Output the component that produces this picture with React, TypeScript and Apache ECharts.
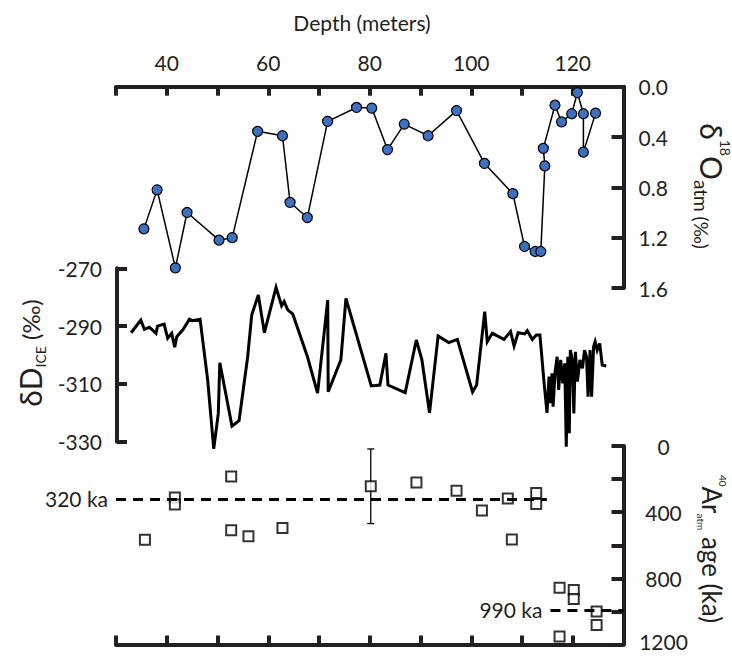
import React, { useEffect, useRef } from "react";
import * as echarts from "echarts";

// δ18O atm (top panel)
const o18Depth = [35.5, 38.1, 41.7, 44.0, 50.3, 52.9, 57.9, 62.8, 64.3, 67.7, 71.7, 77.4, 80.4, 83.5, 86.8, 91.5, 97.1, 102.6, 108.2, 110.5, 112.6, 113.7, 114.5, 114.2, 116.5, 117.8, 119.8, 120.9, 122.1, 122.1, 124.5];
const o18Val = [1.13, 0.82, 1.44, 1.0, 1.22, 1.2, 0.355, 0.39, 0.92, 1.04, 0.276, 0.165, 0.17, 0.5, 0.297, 0.39, 0.19, 0.61, 0.85, 1.27, 1.31, 1.31, 0.63, 0.49, 0.147, 0.28, 0.215, 0.047, 0.215, 0.52, 0.21];

// δD ice (middle panel)
const dDDepth = [32.8, 34.7, 35.4, 36.4, 37.7, 38.0, 39.3, 40.0, 40.8, 41.4, 41.8, 43.0, 44.3, 44.9, 46.4, 47.9, 49.1, 50.0, 50.3, 52.7, 54.1, 55.8, 56.6, 57.9, 59.1, 61.4, 62.5, 63.0, 63.7, 64.7, 67.6, 69.6, 71.6, 71.7, 74.2, 75.2, 80.2, 81.9, 83.1, 83.5, 86.9, 89.1, 90.2, 91.7, 93.4, 95.5, 97.2, 100.2, 101.0, 102.6, 103.1, 104.1, 106.4, 107.7, 108.4, 109.2, 110.5, 111.0, 112.0, 112.8, 113.5, 114.3, 114.9, 115.3, 115.6, 115.9, 116.1, 116.5, 116.9, 117.2, 117.6, 118.0, 118.4, 118.7, 119.0, 119.3, 119.5, 119.9, 120.2, 120.5, 120.9, 121.4, 121.9, 122.3, 122.7, 123.0, 123.4, 123.7, 124.1, 124.4, 124.8, 125.3, 125.8, 126.6];
const dDVal = [-292.3, -287.9, -291.1, -290.4, -292.5, -290.0, -289.3, -294.2, -292.5, -297.3, -293.7, -291.3, -287.6, -288.1, -287.6, -308.6, -332.5, -320.2, -302.7, -324.6, -322.7, -300.6, -286.2, -279.2, -292.3, -276.6, -283.0, -281.5, -284.4, -285.8, -300.6, -313.2, -281.0, -312.7, -301.7, -280.4, -310.7, -310.4, -299.4, -310.4, -313.0, -294.8, -301.7, -320.0, -293.4, -295.7, -294.6, -312.8, -310.4, -285.0, -295.4, -292.5, -294.6, -291.9, -296.9, -292.3, -292.7, -291.6, -294.6, -293.1, -293.1, -309.2, -320.0, -307.5, -316.7, -306.3, -317.9, -305.8, -300.6, -312.1, -301.7, -309.8, -302.9, -331.7, -300.6, -327.1, -298.3, -301.7, -320.2, -298.9, -309.2, -301.7, -304.6, -298.3, -300.6, -314.4, -298.3, -314.4, -297.1, -295.4, -298.3, -296.0, -303.5, -303.8];

// 40Ar atm age (bottom panel)
const arDepth = [35.7, 41.6, 41.6, 52.7, 52.7, 56.1, 62.8, 80.2, 89.2, 97.1, 102.1, 107.2, 108.0, 112.8, 112.8, 117.4, 120.2, 120.2, 117.4, 124.7, 124.7];
const arAge = [566, 312, 353, 184, 510, 545, 496, 243, 220, 271, 390, 318, 565, 284, 351, 857, 871, 925, 1151, 1000, 1082];
const errDepth = [80.2];
const errLow = [18];
const errHigh = [469];

// reference ages
const refAge = [320, 990];
const refLabel = ["320 ka", "990 ka"];
const refFrom = [30, 115.6];
const refTo = [114.9, 130];

const FONT = "Lato";
const INK = "#231f20";

export default function App() {
  const ref = useRef<HTMLDivElement>(null);
  useEffect(() => {
    if (!ref.current) return;
    const chart = echarts.init(ref.current, null, { renderer: "svg" });
    const axisLine = { show: true, onZero: false, lineStyle: { color: INK, width: 4 } };
    const lbl = { color: INK, fontSize: 21, fontFamily: FONT };
    const xBase = { type: "value", min: 30, max: 130, interval: 10, splitLine: { show: false } };

    const option: any = {
      animation: false,
      grid: [
        { left: 116, right: 108.5, top: 86.7, height: 201.3 },
        { left: 117, right: 108.5, top: 268.3, height: 173.4 },
        { left: 116, right: 108.5, top: 446, height: 203.3 },
      ],
      xAxis: [
        {
          ...xBase, gridIndex: 0, position: "top",
          axisLine,
          axisTick: { show: true, inside: true, length: 9, lineStyle: { color: INK, width: 4 } },
          axisLabel: { ...lbl, margin: 14, formatter: (v: number) => (v % 20 === 0 && v >= 40 && v <= 120 ? String(v) : "") },
        },
        { ...xBase, gridIndex: 1, show: false },
        {
          ...xBase, gridIndex: 2, position: "bottom",
          axisLine,
          axisTick: { show: true, inside: true, length: 9, lineStyle: { color: INK, width: 4 } },
          axisLabel: { show: false },
        },
      ],
      yAxis: [
        {
          type: "value", gridIndex: 0, position: "right", inverse: true, min: 0, max: 1.6, interval: 0.4,
          splitLine: { show: false }, axisLine,
          axisTick: { show: true, inside: true, length: 12, lineStyle: { color: INK, width: 4 } },
          axisLabel: { ...lbl, margin: 15, formatter: (v: number) => v.toFixed(1) },
        },
        {
          type: "value", gridIndex: 1, position: "left", min: -330, max: -270, interval: 20,
          splitLine: { show: false }, axisLine,
          axisTick: { show: true, inside: true, length: 10, lineStyle: { color: INK, width: 4 } },
          axisLabel: { ...lbl, margin: 15 },
        },
        {
          type: "value", gridIndex: 2, position: "right", inverse: true, min: 0, max: 1200, interval: 200,
          splitLine: { show: false }, axisLine,
          axisTick: { show: true, inside: true, length: 12, lineStyle: { color: INK, width: 4 } },
          axisLabel: {
            ...lbl, margin: 40, align: "center",
            formatter: (v: number) => (v === 1200 ? "{up|1200}" : v % 400 === 0 ? String(v) : ""),
            rich: { up: { fontSize: 21, fontFamily: FONT, color: INK, lineHeight: 16, padding: [0, 0, 6, 0] } },
          },
        },
      ],
      series: [
        {
          type: "line", xAxisIndex: 0, yAxisIndex: 0,
          data: o18Depth.map((d, i) => [d, o18Val[i]]),
          symbol: "circle", symbolSize: 10, showAllSymbol: true,
          lineStyle: { color: "#000", width: 1.5 },
          itemStyle: { color: "#3f6fbf", borderColor: "#000", borderWidth: 1.2 },
          clip: false, z: 3,
        },
        {
          type: "line", xAxisIndex: 1, yAxisIndex: 1,
          data: dDDepth.map((d, i) => [d, dDVal[i]]),
          symbol: "none",
          lineStyle: { color: "#000", width: 3, join: "miter", miterLimit: 4 },
          clip: false, z: 3,
        },
        {
          type: "custom", xAxisIndex: 2, yAxisIndex: 2,
          data: errDepth.map((d, i) => [d, errLow[i], errHigh[i]]),
          encode: { x: 0, y: [1, 2] },
          z: 1,
          renderItem: (params: any, api: any) => {
            const x = api.value(0);
            const p1 = api.coord([x, api.value(1)]);
            const p2 = api.coord([x, api.value(2)]);
            const c = 3.5;
            const st = { stroke: "#000", lineWidth: 1.3 };
            return {
              type: "group",
              children: [
                { type: "line", shape: { x1: p1[0], y1: p1[1], x2: p2[0], y2: p2[1] }, style: st },
                { type: "line", shape: { x1: p1[0] - c, y1: p1[1], x2: p1[0] + c, y2: p1[1] }, style: st },
                { type: "line", shape: { x1: p2[0] - c, y1: p2[1], x2: p2[0] + c, y2: p2[1] }, style: st },
              ],
            };
          },
        },
        {
          type: "scatter", xAxisIndex: 2, yAxisIndex: 2,
          data: arDepth.map((d, i) => [d, arAge[i]]),
          symbol: "rect", symbolSize: 10,
          itemStyle: { color: "#fff", borderColor: "#000", borderWidth: 2 },
          z: 2,
          markLine: {
            silent: true, symbol: ["none", "none"], z: 5,
            lineStyle: { color: "#000", width: 3, type: [10, 7] },
            label: { show: true, position: "start", distance: 8, ...lbl, formatter: (p: any) => p.name },
            data: refAge.map((a, i) => [
              { name: refLabel[i], coord: [refFrom[i], a] },
              { coord: [refTo[i], a] },
            ]),
          },
        },
      ],
      graphic: [
        {
          type: "text", x: 362, y: 22,
          style: { text: "Depth (meters)", fill: INK, font: `21px ${FONT}`, align: "center", verticalAlign: "middle" },
        },
        {
          type: "text", x: 30, y: 353, rotation: Math.PI / 2,
          style: {
            text: "{a|δD}{sub|ICE}{b| (‰)}", align: "center", verticalAlign: "middle", fill: INK,
            rich: {
              a: { fontSize: 30, fontFamily: FONT, fill: INK, lineHeight: 34 },
              sub: { fontSize: 14, fontFamily: FONT, fill: INK, verticalAlign: "bottom" },
              b: { fontSize: 24, fontFamily: FONT, fill: INK },
            },
          },
        },
        {
          type: "text", x: 712, y: 186, rotation: -Math.PI / 2,
          style: {
            text: "{a|δ}{sup|18}{a|O}{sub|atm (‰)}", align: "center", verticalAlign: "middle", fill: INK,
            rich: {
              a: { fontSize: 30, fontFamily: FONT, fill: INK, lineHeight: 40 },
              sup: { fontSize: 14, fontFamily: FONT, fill: INK, verticalAlign: "top" },
              sub: { fontSize: 19, fontFamily: FONT, fill: INK, verticalAlign: "bottom" },
            },
          },
        },
        {
          type: "text", x: 712, y: 549, rotation: -Math.PI / 2,
          style: {
            text: "{sup|40}{a|Ar}{sub|atm}{a| age (ka)}", align: "center", verticalAlign: "middle", fill: INK,
            rich: {
              a: { fontSize: 26, fontFamily: FONT, fill: INK, lineHeight: 32 },
              sup: { fontSize: 10, fontFamily: FONT, fill: INK, verticalAlign: "top" },
              sub: { fontSize: 10, fontFamily: FONT, fill: INK, verticalAlign: "bottom" },
            },
          },
        },
      ],
    };
    chart.setOption(option);
    return () => chart.dispose();
  }, []);
  return <div ref={ref} style={{ width: 732, height: 658, position: "absolute", left: 0, top: 0 }} />;
}
